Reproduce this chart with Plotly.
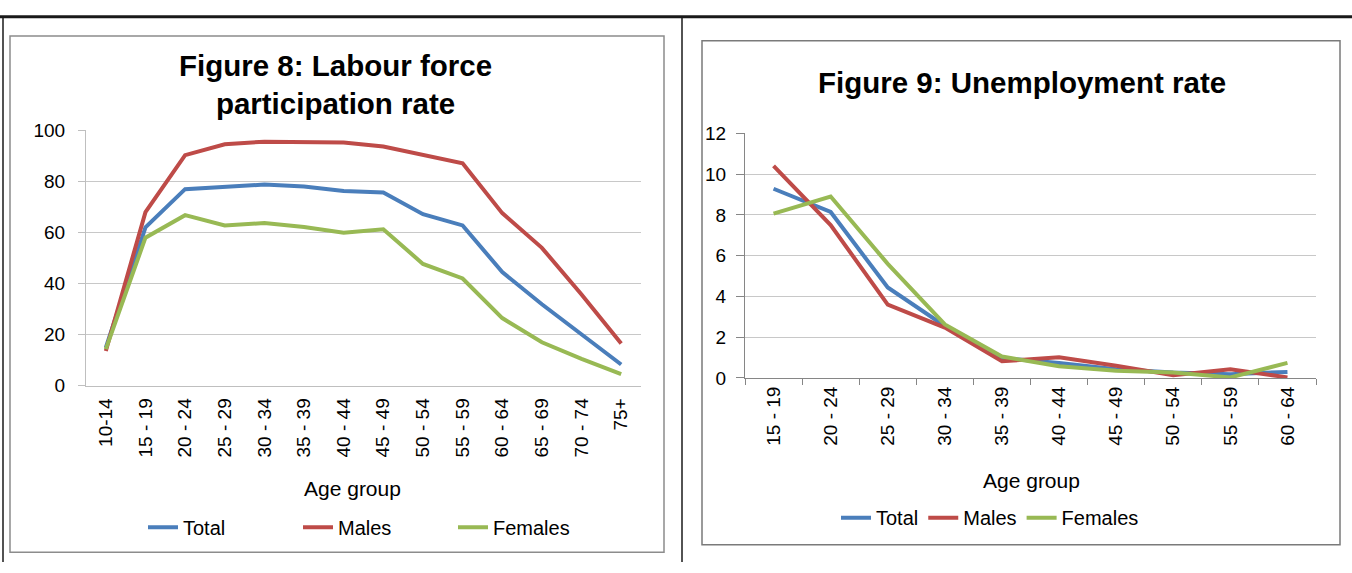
import plotly.graph_objects as go

W, H = 1352, 573

# ---- data ----
ages_lf = ["10-14", "15 - 19", "20 - 24", "25 - 29", "30 - 34", "35 - 39", "40 - 44",
           "45 - 49", "50 - 54", "55 - 59", "60 - 64", "65 - 69", "70 - 74", "75+"]
lf_total = [14.9, 62, 77, 78, 78.8, 78, 76.3, 75.7, 67.2, 62.8, 44.5, 31.9, 19.9, 8.3]
lf_males = [13.6, 68, 90.3, 94.6, 95.6, 95.6, 95.3, 93.7, 90.3, 87.1, 67.6, 54, 35.7, 16.5]
lf_females = [14.3, 58, 66.8, 62.8, 63.7, 62.2, 59.9, 61.3, 47.7, 42, 26.5, 17, 10.5, 4.5]

ages_ue = ["15 - 19", "20 - 24", "25 - 29", "30 - 34", "35 - 39", "40 - 44",
           "45 - 49", "50 - 54", "55 - 59", "60 - 64"]
ue_total = [9.28, 8.14, 4.44, 2.55, 0.98, 0.74, 0.43, 0.27, 0.19, 0.3]
ue_males = [10.4, 7.5, 3.6, 2.47, 0.82, 1.02, 0.6, 0.14, 0.43, 0.03]
ue_females = [8.06, 8.9, 5.6, 2.63, 1.05, 0.58, 0.35, 0.27, 0.03, 0.74]

series_names = ["Total", "Males", "Females"]
colors = ["#4A7EBB", "#BE4B48", "#98B954"]

FONT = "Liberation Sans, Arial, sans-serif"

def px(x):
    return x / W

def py(y):
    return 1 - y / H

fig = go.Figure()

for name, vals, c in zip(series_names, [lf_total, lf_males, lf_females], colors):
    fig.add_trace(go.Scatter(x=ages_lf, y=vals, name=name, mode="lines",
                             line=dict(color=c, width=4), xaxis="x", yaxis="y",
                             legend="legend"))
for name, vals, c in zip(series_names, [ue_total, ue_males, ue_females], colors):
    fig.add_trace(go.Scatter(x=ages_ue, y=vals, name=name, mode="lines",
                             line=dict(color=c, width=4), xaxis="x2", yaxis="y2",
                             legend="legend2"))

tickfont = dict(family=FONT, size=19, color="#000000")

fig.update_layout(
    width=W, height=H,
    margin=dict(l=0, r=0, t=0, b=0),
    paper_bgcolor="white", plot_bgcolor="white",
    font=dict(family=FONT, color="#000000"),
    xaxis=dict(domain=[px(86), px(641)], anchor="y", type="category",
               tickangle=-90, tickfont=tickfont, showgrid=False,
               showline=True, linecolor="#BFBFBF", linewidth=1,
               ticks="", range=[-0.5, 13.5], ticklabelstandoff=4),
    yaxis=dict(domain=[py(390), py(125)], anchor="x", range=[0, 100], dtick=20,
               tickfont=tickfont, showgrid=True, gridcolor="#C8C8C8", gridwidth=1,
               showline=True, linecolor="#BFBFBF", linewidth=1, zeroline=False,
               ticks="outside", ticklen=7, tickcolor="#BFBFBF", ticklabelstandoff=9),
    xaxis2=dict(domain=[px(745), px(1316)], anchor="y2", type="category",
                tickangle=-90, tickfont=tickfont, showgrid=False,
                showline=True, linecolor="#868686", linewidth=1,
                ticks="outside", tickson="boundaries", ticklen=6, tickcolor="#868686",
                range=[-0.5, 9.5]),
    yaxis2=dict(domain=[py(382), py(128)], anchor="x2", range=[0, 12], dtick=2,
                tickfont=tickfont, showgrid=True, gridcolor="#C8C8C8", gridwidth=1,
                showline=True, linecolor="#868686", linewidth=1, zeroline=False,
                ticks="outside", ticklen=8, tickcolor="#868686", ticklabelstandoff=6),
    legend=dict(orientation="h", x=px(143), xanchor="left", y=py(537), yanchor="middle",
                font=dict(family=FONT, size=20), bgcolor="rgba(0,0,0,0)",
                itemwidth=30, entrywidth=110, tracegroupgap=0),
    legend2=dict(orientation="h", x=px(836), xanchor="left", y=py(527), yanchor="middle",
                 font=dict(family=FONT, size=20), bgcolor="rgba(0,0,0,0)",
                 itemwidth=30, tracegroupgap=0),
)

# Titles and axis titles
fig.add_annotation(text="<b>Figure 8: Labour force<br>participation rate</b>",
                   x=px(335), y=py(77), xref="paper", yref="paper",
                   xanchor="center", yanchor="middle",
                   showarrow=False, font=dict(family=FONT, size=29.5), align="center")
fig.add_annotation(text="<b>Figure 9: Unemployment rate</b>",
                   x=px(1022), y=py(75), xref="paper", yref="paper",
                   xanchor="center", yanchor="middle",
                   showarrow=False, font=dict(family=FONT, size=29.5), align="center")
fig.add_annotation(text="Age group", x=px(352), y=py(497), xref="paper", yref="paper",
                   xanchor="center", yanchor="middle",
                   showarrow=False, font=dict(family=FONT, size=21))
fig.add_annotation(text="Age group", x=px(1031), y=py(488), xref="paper", yref="paper",
                   xanchor="center", yanchor="middle",
                   showarrow=False, font=dict(family=FONT, size=21))

# Chart boxes and page frame
shapes = [
    dict(type="rect", x0=px(10), x1=px(664), y0=py(563), y1=py(27),
         line=dict(color="#8C8C8C", width=1.5)),
    dict(type="rect", x0=px(702), x1=px(1340), y0=py(555), y1=py(32),
         line=dict(color="#7A7A7A", width=1.5)),
    dict(type="line", x0=0, x1=1, y0=py(7), y1=py(7), line=dict(color="#1A1A1A", width=3)),
    dict(type="line", x0=px(3), x1=px(3), y0=0, y1=py(7), line=dict(color="#1A1A1A", width=1.5)),
    dict(type="line", x0=px(682), x1=px(682), y0=0, y1=py(7), line=dict(color="#1A1A1A", width=1.5)),
]
for s in shapes:
    s.update(xref="paper", yref="paper", layer="above")
fig.update_layout(shapes=shapes)

post = (
    "document.body.style.margin='0';"
    "document.body.style.overflow='hidden';"
    "var gd=document.getElementById('{plot_id}');"
    "gd.style.position='fixed';gd.style.top='0px';gd.style.left='0px';"
)

fig.write_html("out.html", config={"displayModeBar": False}, post_script=post)
